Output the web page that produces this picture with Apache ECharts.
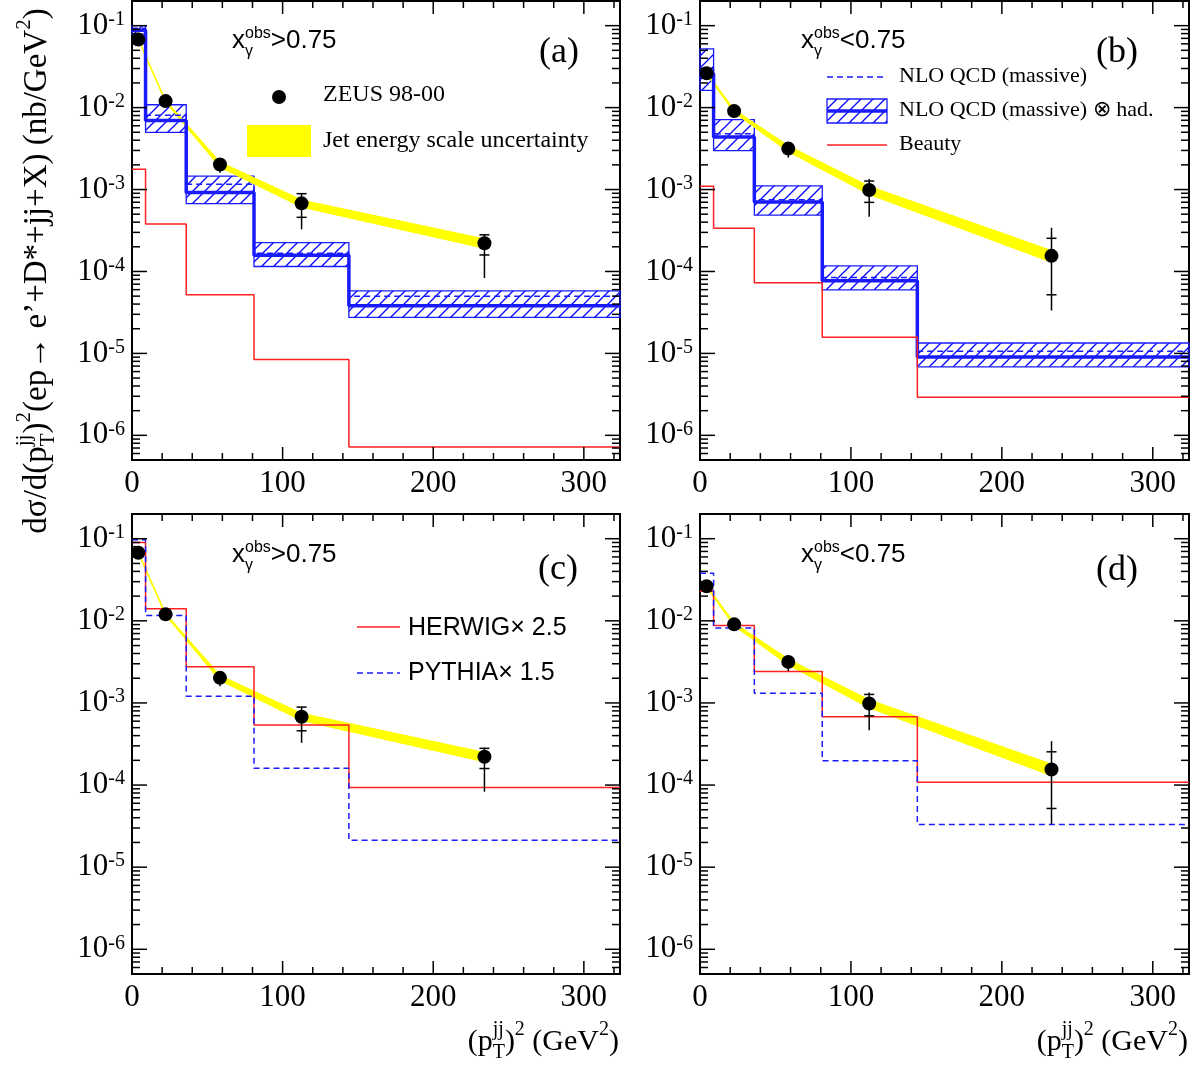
<!DOCTYPE html>
<html>
<head>
<meta charset="utf-8">
<script src="https://cdn.jsdelivr.net/npm/echarts@6/dist/echarts.min.js"></script>
<style>
  html, body { margin: 0; background: #fff; }
  #chart { width: 1204px; height: 1070px; }
</style>
</head>
<body>
<div id="chart"></div>
<script>
const SERIF = '"Liberation Serif", "Times New Roman", serif'
const SANS = '"Liberation Sans", Arial, sans-serif'
const BLUE = '#1a1aff'
const RED = '#ff2020'
const YELLOW = '#ffff00'

// == Data ====================================================================

// bin edges of (p_T^jj)^2 in GeV^2
const binEdges = [0, 9, 36, 81, 144, 324]

// ZEUS 98-00, x_gamma^obs > 0.75
const hiX = [4.2, 22.3, 58.4, 112.6, 234]
const hiXsec = [0.0676, 0.0120, 2.02e-3, 6.78e-4, 2.21e-4]
const hiStatDn = [0.0640, 0.0113, 1.85e-3, 4.58e-4, 1.59e-4]
const hiStatUp = [0.0712, 0.0127, 2.19e-3, 8.90e-4, 2.80e-4]
const hiTotDn = [0.0615, 0.0106, 1.60e-3, 3.27e-4, 8.3e-5]
const hiTotUp = [0.0735, 0.0132, 2.30e-3, 8.95e-4, 2.85e-4]
const hiJes = [0.01, 0.02, 0.07, 0.10, 0.13] // relative jet energy scale unc.

// ZEUS 98-00, x_gamma^obs < 0.75
const loX = [4.4, 22.6, 58.5, 112.1, 232.9]
const loXsec = [0.0263, 9.06e-3, 3.16e-3, 9.85e-4, 1.55e-4]
const loStatDn = [0.0245, 8.4e-3, 2.85e-3, 6.97e-4, 5.19e-5]
const loStatUp = [0.0281, 9.7e-3, 3.47e-3, 1.27e-3, 2.54e-4]
const loTotDn = [0.0228, 7.5e-3, 2.45e-3, 4.65e-4, 3.34e-5]
const loTotUp = [0.0295, 1.0e-2, 3.8e-3, 1.34e-3, 3.42e-4]
const loJes = [0.02, 0.04, 0.08, 0.11, 0.16]

// NLO QCD (massive), per bin
const hiNlo = [0.093, 8.04e-3, 1.164e-3, 1.67e-4, 5.0e-5]
const hiNloHad = [0.088, 6.98e-3, 9.22e-4, 1.58e-4, 3.81e-5]
const hiNloHadDn = [0.079, 4.99e-3, 6.72e-4, 1.15e-4, 2.75e-5]
const hiNloHadUp = [0.100, 1.084e-2, 1.456e-3, 2.25e-4, 5.81e-5]
const hiBeauty = [1.77e-3, 3.79e-4, 5.19e-5, 8.41e-6, 7.2e-7]

const loNlo = [0.030, 4.8e-3, 7.5e-4, 8.43e-5, 1.06e-5]
const loNloHad = [0.026, 4.37e-3, 7.03e-4, 7.69e-5, 9.06e-6]
const loNloHadDn = [0.0162, 2.98e-3, 4.88e-4, 5.97e-5, 6.86e-6]
const loNloHadUp = [0.052, 7.15e-3, 1.11e-3, 1.17e-4, 1.34e-5]
const loBeauty = [1.1e-3, 3.36e-4, 7.26e-5, 1.57e-5, 2.92e-6]

// MC predictions, scaled
const hiHerwig = [0.090, 0.0140, 2.75e-3, 5.39e-4, 9.35e-5]
const hiPythia = [0.097, 0.0116, 1.21e-3, 1.6e-4, 2.13e-5]
const loHerwig = [0.023, 8.77e-3, 2.41e-3, 6.8e-4, 1.08e-4]
const loPythia = [0.038, 8.2e-3, 1.31e-3, 1.98e-4, 3.32e-5]

// axis ranges and ticks
const xMin = 0
const xMax = 324
const yMin = 5e-7
const yMax = 0.2
const xMajor = [0, 100, 200, 300]
const xMinor = [20, 40, 60, 80, 120, 140, 160, 180, 220, 240, 260, 280, 320]
const yMajor = [1e-6, 1e-5, 1e-4, 1e-3, 1e-2, 1e-1]
const yMinor = []
for (let d = -7; d <= -1; d++) {
  for (let k = 2; k <= 9; k++) {
    const v = k * Math.pow(10, d)
    if (v > yMin && v < yMax) yMinor.push(v)
  }
}

// == Helpers =================================================================

const ctx = document.createElement('canvas').getContext('2d')
function measure (t, size, family) {
  ctx.font = size + 'px ' + family
  return ctx.measureText(t).width
}

function piece (t, s, x, base, family) {
  return {
    type: 'text', x, y: base - 0.3 * s, silent: true,
    style: {text: t, font: s + 'px ' + family, fill: '#000', align: 'left', textAlign: 'left', verticalAlign: 'middle', textVerticalAlign: 'middle'}
  }
}

// parts: [text, size, dy] or [[sub, sup], size, [dySub, dySup]]
function typeset (parts, family) {
  let x = 0
  const children = []
  for (const [t, s, dy] of parts) {
    if (Array.isArray(t)) {
      children.push(piece(t[0], s, x, dy[0], family))
      children.push(piece(t[1], s, x, dy[1], family))
      x += Math.max(measure(t[0], s, family), measure(t[1], s, family))
    } else {
      children.push(piece(t, s, x, dy, family))
      x += measure(t, s, family)
    }
  }
  return {children, width: x}
}

const hatch = document.createElement('canvas')
hatch.width = 12
hatch.height = 12
const hctx = hatch.getContext('2d')
hctx.strokeStyle = '#0000ff'
hctx.lineWidth = 1.3
hctx.beginPath()
hctx.moveTo(-1, 13); hctx.lineTo(13, -1)
hctx.moveTo(-1, 1); hctx.lineTo(1, -1)
hctx.moveTo(11, 13); hctx.lineTo(13, 11)
hctx.stroke()
const hatchFill = {image: hatch, repeat: 'repeat'}

function stepData (vals) {
  return binEdges.map((e, i) => [e, vals[Math.min(i, vals.length - 1)]])
}

function ln (x1, y1, x2, y2, w) {
  return {type: 'line', shape: {x1, y1, x2, y2}, style: {stroke: '#000', lineWidth: w || 1.5}}
}

function renderPoint (params, api) {
  const x = api.value(0)
  const c = api.coord([x, api.value(1)])
  const sd = api.coord([x, api.value(2)])
  const su = api.coord([x, api.value(3)])
  const td = api.coord([x, api.value(4)])
  const tu = api.coord([x, api.value(5)])
  return {
    type: 'group',
    children: [
      ln(c[0], tu[1], c[0], td[1]),
      ln(c[0] - 5, sd[1], c[0] + 5, sd[1]),
      ln(c[0] - 5, su[1], c[0] + 5, su[1]),
      {type: 'circle', shape: {cx: c[0], cy: c[1], r: 7}, style: {fill: '#000'}}
    ]
  }
}

function renderBand (params, api) {
  const a = api.coord([api.value(0), api.value(2)])
  const b = api.coord([api.value(3), api.value(5)])
  const c = api.coord([api.value(3), api.value(4)])
  const d = api.coord([api.value(0), api.value(1)])
  return {
    type: 'polygon',
    shape: {points: [a, b, c, d]},
    style: {fill: YELLOW, stroke: YELLOW, lineWidth: 1.2}
  }
}

function renderBox (params, api) {
  const p0 = api.coord([api.value(0), api.value(3)])
  const p1 = api.coord([api.value(2), api.value(1)])
  return {
    type: 'rect',
    shape: {x: p0[0], y: p0[1], width: p1[0] - p0[0], height: p1[1] - p0[1]},
    style: {fill: hatchFill, stroke: BLUE, lineWidth: 1.3}
  }
}

// row: [x, y, kind (0 = x tick, 1 = y tick), length]
function renderTick (params, api) {
  const len = api.value(3)
  if (api.value(2) === 0) {
    const b = api.coord([api.value(0), yMin])
    const t = api.coord([api.value(0), yMax])
    return {type: 'group', children: [ln(b[0], b[1], b[0], b[1] - len), ln(t[0], t[1], t[0], t[1] + len)]}
  }
  const l = api.coord([xMin, api.value(1)])
  const r = api.coord([xMax, api.value(1)])
  return {type: 'group', children: [ln(l[0], l[1], l[0] + len, l[1]), ln(r[0], r[1], r[0] - len, r[1])]}
}

const tickRows = [
  ...xMajor.map(v => [v, yMin, 0, 13]),
  ...xMinor.map(v => [v, yMin, 0, 7]),
  ...yMajor.map(v => [xMin, v, 1, 15]),
  ...yMinor.map(v => [xMin, v, 1, 8])
]

// == Panels ==================================================================

const hi = {x: hiX, xsec: hiXsec, sd: hiStatDn, su: hiStatUp, td: hiTotDn, tu: hiTotUp, jes: hiJes}
const lo = {x: loX, xsec: loXsec, sd: loStatDn, su: loStatUp, td: loTotDn, tu: loTotUp, jes: loJes}

const panels = [
  {d: hi, box: [hiNloHadDn, hiNloHadUp],
    steps: [[hiNloHad, BLUE, 3.5, 'solid'], [hiNlo, BLUE, 1.5, [6, 4]], [hiBeauty, RED, 1.5, 'solid']]},
  {d: lo, box: [loNloHadDn, loNloHadUp],
    steps: [[loNloHad, BLUE, 3.5, 'solid'], [loNlo, BLUE, 1.5, [6, 4]], [loBeauty, RED, 1.5, 'solid']]},
  {d: hi, steps: [[hiHerwig, RED, 1.5, 'solid'], [hiPythia, BLUE, 1.5, [6, 4]]]},
  {d: lo, steps: [[loHerwig, RED, 1.5, 'solid'], [loPythia, BLUE, 1.5, [6, 4]]]}
]

const grids = [
  {left: 132, top: 1, width: 488, height: 459},
  {left: 700, top: 1, width: 489, height: 459},
  {left: 132, top: 514, width: 488, height: 460},
  {left: 700, top: 514, width: 489, height: 460}
]

const series = []
panels.forEach((p, g) => {
  const idx = {xAxisIndex: g, yAxisIndex: g}
  if (p.box) {
    series.push({
      type: 'custom', ...idx, z: 2, silent: true, renderItem: renderBox,
      data: p.box[0].map((dn, i) => [binEdges[i], dn, binEdges[i + 1], p.box[1][i]])
    })
  }
  const d = p.d
  const seg = []
  for (let i = 0; i < d.x.length - 1; i++) {
    seg.push([d.x[i], d.xsec[i] * (1 - d.jes[i]), d.xsec[i] * (1 + d.jes[i]),
      d.x[i + 1], d.xsec[i + 1] * (1 - d.jes[i + 1]), d.xsec[i + 1] * (1 + d.jes[i + 1])])
  }
  series.push({type: 'custom', ...idx, z: 3, silent: true, renderItem: renderBand, data: seg})
  p.steps.forEach(([vals, color, width, type]) => {
    series.push({
      type: 'line', ...idx, z: 4, step: 'end', symbol: 'none', silent: true,
      lineStyle: {color, width, type}, data: stepData(vals)
    })
  })
  series.push({
    type: 'custom', ...idx, z: 6, silent: true, renderItem: renderPoint,
    data: d.x.map((x, i) => [x, d.xsec[i], d.sd[i], d.su[i], d.td[i], d.tu[i]])
  })
  series.push({type: 'custom', ...idx, z: 7, silent: true, renderItem: renderTick, data: tickRows})
})

const xAxis = grids.map((g, i) => ({
  gridIndex: i, type: 'value', min: xMin, max: xMax, interval: 100,
  axisLine: {show: false}, axisTick: {show: false}, splitLine: {show: false},
  axisLabel: {
    margin: 8, color: '#000', fontFamily: SERIF, fontSize: 31, showMaxLabel: false,
    formatter: v => (v % 100 === 0 ? String(v) : '')
  }
}))

const yAxis = grids.map((g, i) => ({
  gridIndex: i, type: 'log', logBase: 10, min: yMin, max: yMax,
  axisLine: {show: false}, axisTick: {show: false}, splitLine: {show: false},
  axisLabel: {
    margin: 7, color: '#000',
    formatter: v => {
      const l = Math.log10(v)
      const e = Math.round(l)
      if (Math.abs(l - e) > 1e-6) return ''
      return '{b|10}{s|' + e + '}'
    },
    rich: {
      b: {fontFamily: SERIF, fontSize: 31, color: '#000', lineHeight: 32},
      s: {fontFamily: SERIF, fontSize: 20, color: '#000', verticalAlign: 'top', lineHeight: 17}
    }
  }
}))

// == Annotations =============================================================

const graphic = []

function placeText (parts, family, x, base, opt) {
  const ts = typeset(parts, family)
  const o = opt || {}
  const group = {type: 'group', children: ts.children}
  if (o.rotate) {
    group.rotation = Math.PI / 2
    group.x = x
    group.y = base + ts.width / 2
  } else {
    group.x = o.right ? x - ts.width : x
    group.y = base
  }
  graphic.push(group)
}

function xg (x, base, sign) {
  placeText([['x', 26, 0], [['γ', 'obs'], 16, [7, -11]], [sign + '0.75', 26, 0]], SANS, x, base)
}
xg(232, 49, '>')
xg(801, 49, '<')
xg(232, 563, '>')
xg(801, 563, '<')

function label (t, x, y, size, family, align) {
  graphic.push({
    type: 'text', x, y, silent: true,
    style: {text: t, font: size + 'px ' + family, fill: '#000', align: align || 'left', textAlign: align || 'left', verticalAlign: 'middle', textVerticalAlign: 'middle'}
  })
}
label('(a)', 559, 53, 36, SERIF, 'center')
label('(b)', 1117, 53, 36, SERIF, 'center')
label('(c)', 558, 570, 36, SERIF, 'center')
label('(d)', 1117, 571, 36, SERIF, 'center')

// legend (a)
graphic.push({type: 'circle', shape: {cx: 279, cy: 97, r: 7}, style: {fill: '#000'}})
label('ZEUS 98-00', 323, 94.5, 24, SERIF)
graphic.push({type: 'rect', shape: {x: 247, y: 125, width: 64, height: 32}, style: {fill: YELLOW}})
label('Jet energy scale uncertainty', 323, 140.5, 24, SERIF)

// legend (b)
graphic.push({type: 'line', shape: {x1: 827, y1: 77, x2: 887, y2: 77}, style: {stroke: BLUE, lineWidth: 1.5, lineDash: [6, 4]}})
label('NLO QCD (massive)', 899, 76.5, 22, SERIF)
graphic.push({type: 'rect', shape: {x: 827, y: 99, width: 60, height: 24}, style: {fill: hatchFill, stroke: BLUE, lineWidth: 1.3}})
graphic.push({type: 'line', shape: {x1: 827, y1: 111, x2: 887, y2: 111}, style: {stroke: BLUE, lineWidth: 3.5}})
label('NLO QCD (massive) ⊗ had.', 899, 110.5, 22, SERIF)
graphic.push({type: 'line', shape: {x1: 827, y1: 145, x2: 887, y2: 145}, style: {stroke: RED, lineWidth: 1.5}})
label('Beauty', 899, 144.5, 22, SERIF)

// legend (c)
graphic.push({type: 'line', shape: {x1: 357, y1: 627, x2: 400, y2: 627}, style: {stroke: RED, lineWidth: 1.5}})
label('HERWIG× 2.5', 408, 628, 25, SANS)
graphic.push({type: 'line', shape: {x1: 357, y1: 673, x2: 400, y2: 673}, style: {stroke: BLUE, lineWidth: 1.5, lineDash: [6, 4]}})
label('PYTHIA× 1.5', 408, 673, 25, SANS)

// axis titles
const yTitle = [
  ['dσ/d(p', 33, 0], [['T', 'jj'], 21, [8, -16]], [')', 33, 0], ['2', 21, -16],
  ['(ep→ e’+D*+jj+X) (nb/GeV', 33, 0], ['2', 21, -16], [')', 33, 0]
]
placeText(yTitle, SERIF, 47, 271, {rotate: true})

const xTitle = [
  ['(p', 30, 0], [['T', 'jj'], 20, [8, -15]], [')', 30, 0], ['2', 20, -15],
  [' (GeV', 30, 0], ['2', 20, -15], [')', 30, 0]
]
placeText(xTitle, SERIF, 619, 1051, {right: true})
placeText(xTitle, SERIF, 1188, 1051, {right: true})

// == Chart ===================================================================

const chart = echarts.init(document.getElementById('chart'), null, {renderer: 'canvas'})
chart.setOption({
  animation: false,
  backgroundColor: '#fff',
  grid: grids.map(g => ({...g, show: true, borderColor: '#000', borderWidth: 2, backgroundColor: 'transparent'})),
  xAxis,
  yAxis,
  series,
  graphic
})
</script>
</body>
</html>
